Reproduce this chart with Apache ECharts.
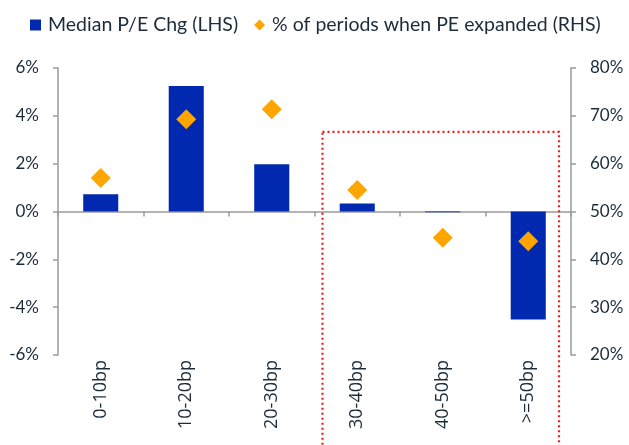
<!DOCTYPE html>
<html>
<head>
<meta charset="utf-8">
<script src="https://cdn.jsdelivr.net/npm/echarts@6/dist/echarts.min.js"></script>
<style>
  html, body { margin: 0; padding: 0; background: #fff; }
  #chart { width: 629px; height: 445px; }
</style>
</head>
<body>
<div id="chart"></div>
<script>
// Rate-move buckets
const categories = ['0-10bp', '10-20bp', '20-30bp', '30-40bp', '40-50bp', '>=50bp'];
// Median P/E change, % (left axis)
const medianPeChg = [0.72, 5.25, 1.98, 0.33, -0.03, -4.52];
// Share of periods in which the P/E expanded, % (right axis)
const pctExpanded = [57.0, 69.3, 71.4, 54.5, 44.5, 43.8];
// Axis tick ranges
const leftAxis = { min: -6, max: 6, interval: 2 };
const rightAxis = { min: 20, max: 80, interval: 10 };

const textColor = '#1c2b3a';
const axisGrey = '#9a9a9a';
const fontFamily = 'Lato, "Open Sans", sans-serif';
const catFont = '"Open Sans", sans-serif';

const chart = echarts.init(document.getElementById('chart'), null, { renderer: 'canvas' });

const option = {
  animation: false,
  textStyle: { fontFamily: fontFamily },
  legend: {
    top: 10,
    left: 25,
    itemGap: 16,
    itemWidth: 11,
    itemHeight: 11,
    textStyle: { color: textColor, fontSize: 19.5, fontFamily: fontFamily, padding: [0, 0, 0, 2] },
    data: [
      { name: 'Median P/E Chg (LHS)', icon: 'rect' },
      { name: '% of periods when PE expanded (RHS)', icon: 'diamond' }
    ]
  },
  grid: { left: 58, right: 58, top: 68, bottom: 90, containLabel: false },
  xAxis: [
    {
      type: 'category',
      data: categories,
      axisLine: { onZero: true, lineStyle: { color: axisGrey, width: 1.5 } },
      axisTick: { show: true, length: 5, inside: false, lineStyle: { color: axisGrey, width: 1.5 } },
      axisLabel: { show: false },
      splitLine: { show: false }
    },
    {
      type: 'category',
      data: categories,
      position: 'bottom',
      axisLine: { show: false, onZero: false },
      axisTick: { show: false },
      axisLabel: {
        rotate: 90,
        margin: 5,
        color: textColor,
        fontSize: 18,
        fontFamily: catFont
      }
    }
  ],
  yAxis: [
    {
      type: 'value',
      position: 'left',
      min: leftAxis.min, max: leftAxis.max, interval: leftAxis.interval,
      axisLine: { show: true, lineStyle: { color: axisGrey, width: 1.5 } },
      axisTick: { show: true, length: 5, lineStyle: { color: axisGrey, width: 1.5 } },
      axisLabel: { color: textColor, fontSize: 17, margin: 19, formatter: v => v + '%' },
      splitLine: { show: false }
    },
    {
      type: 'value',
      position: 'right',
      min: rightAxis.min, max: rightAxis.max, interval: rightAxis.interval,
      axisLine: { show: true, lineStyle: { color: axisGrey, width: 1.5 } },
      axisTick: { show: true, length: 5, lineStyle: { color: axisGrey, width: 1.5 } },
      axisLabel: { color: textColor, fontSize: 17, margin: 19, formatter: v => v + '%' },
      splitLine: { show: false }
    }
  ],
  series: [
    {
      name: 'Median P/E Chg (LHS)',
      type: 'bar',
      xAxisIndex: 0,
      yAxisIndex: 0,
      data: medianPeChg,
      barWidth: '41%',
      itemStyle: { color: '#0029b0' },
      z: 2
    },
    {
      name: '% of periods when PE expanded (RHS)',
      type: 'scatter',
      xAxisIndex: 0,
      yAxisIndex: 1,
      data: pctExpanded,
      symbol: 'diamond',
      symbolSize: [20, 20],
      itemStyle: { color: '#ffa500', opacity: 1 },
      z: 3
    }
  ]
};

chart.setOption(option);

// Dotted highlight box around the 30bp+ buckets (annotation, open at the bottom of the page)
const bandWidth = chart.convertToPixel({ xAxisIndex: 0 }, categories[1]) - chart.convertToPixel({ xAxisIndex: 0 }, categories[0]);
const boxLeft = chart.convertToPixel({ xAxisIndex: 0 }, categories[3]) - bandWidth / 2 + 8;
const boxRight = chart.convertToPixel({ xAxisIndex: 0 }, categories[5]) + bandWidth / 2 - 12;
const boxTop = chart.convertToPixel({ yAxisIndex: 0 }, 3.33);
chart.setOption({
  graphic: [{
    type: 'rect',
    shape: { x: boxLeft, y: boxTop, width: boxRight - boxLeft, height: 400 },
    style: { fill: 'none', stroke: '#e8201c', lineWidth: 2.2, lineDash: [2, 3] },
    z: 10
  }]
});
</script>
</body>
</html>
